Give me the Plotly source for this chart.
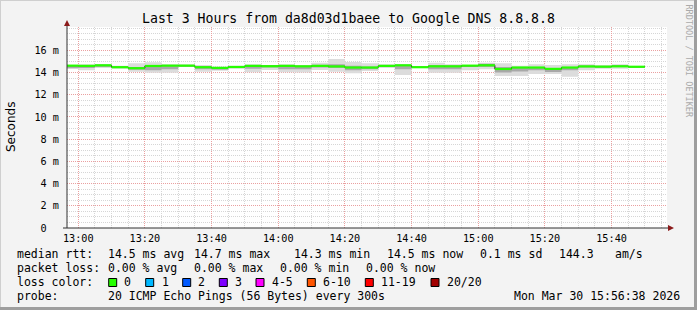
import plotly.graph_objects as go

# ---------------- data ----------------
DAY = "2026-03-30 "
seg_start = ["12:55", "13:00", "13:05", "13:10", "13:15", "13:20", "13:25", "13:30", "13:35",
             "13:40", "13:45", "13:50", "13:55", "14:00", "14:05", "14:10", "14:15", "14:20",
             "14:25", "14:30", "14:35", "14:40", "14:45", "14:50", "14:55", "15:00", "15:05",
             "15:10", "15:15", "15:20", "15:25", "15:30", "15:35", "15:40", "15:45"]
last_end = "15:50"

median_ms = [14.62, 14.60, 14.65, 14.48, 14.39, 14.59, 14.62, 14.62, 14.48,
             14.42, 14.50, 14.60, 14.57, 14.60, 14.56, 14.60, 14.55, 14.45,
             14.45, 14.60, 14.65, 14.48, 14.56, 14.56, 14.62, 14.65, 14.32,
             14.45, 14.45, 14.33, 14.45, 14.55, 14.53, 14.56, 14.52]

smoke_lo = [14.35, 14.20, 14.40, 14.35, 14.08, 13.99, 13.99, 14.53, 14.08,
            14.17, 14.35, 14.02, 14.23, 14.02, 14.00, 14.23, 14.08, 13.93,
            14.14, 14.40, 13.78, 14.40, 13.99, 13.99, 14.20, 14.30, 13.69,
            13.69, 13.87, 13.87, 13.63, 14.20, 14.35, 14.35, 14.45]
smoke_hi = [14.65, 14.75, 14.70, 14.60, 14.84, 14.93, 14.75, 14.75, 14.68,
            14.53, 14.62, 14.75, 14.68, 14.75, 14.62, 14.89, 15.22, 14.95,
            14.84, 14.75, 14.68, 14.55, 14.89, 14.75, 14.68, 14.89, 14.84,
            14.62, 14.75, 14.68, 14.75, 14.75, 14.68, 14.75, 14.58]
core_lo = [14.38, 14.40, 14.50, 14.40, 14.25, 14.20, 14.30, 14.55, 14.30,
           14.25, 14.45, 14.35, 14.45, 14.30, 14.30, 14.45, 14.40, 14.20,
           14.30, 14.50, 14.30, 14.45, 14.30, 14.30, 14.50, 14.50, 14.00,
           14.10, 14.20, 14.05, 14.20, 14.45, 14.45, 14.50, 14.48]
core_hi = [14.60, 14.60, 14.65, 14.50, 14.45, 14.55, 14.55, 14.65, 14.48,
           14.45, 14.55, 14.60, 14.60, 14.55, 14.50, 14.70, 14.75, 14.60,
           14.55, 14.65, 14.60, 14.50, 14.60, 14.55, 14.62, 14.80, 14.50,
           14.40, 14.50, 14.40, 14.45, 14.60, 14.58, 14.60, 14.55]

y_tick_vals = [0, 2, 4, 6, 8, 10, 12, 14, 16]
y_tick_text = ["0\u00a0\u00a0", "2 m", "4 m", "6 m", "8 m", "10 m", "12 m", "14 m", "16 m"]

title_text = "Last 3 Hours from da8d03d1baee to Google DNS 8.8.8.8"
loss_labels = ["0", "1", "2", "3", "4-5", "6-10", "11-19", "20/20"]
loss_colors = ["#26ff00", "#00b8ff", "#0059ff", "#7e00ff", "#ff00ff", "#ff5500", "#ff0000", "#a10000"]

# ---------------- geometry helpers ----------------
L, R, T, B = 67, 667, 27, 228
W, H = R - L, B - T


def px(xp):
    return (xp - L) / W


def py(yp):
    return (B - yp) / H


xs = [DAY + t for t in seg_start] + [DAY + last_end]


def stepped(vals):
    return list(vals) + [vals[-1]]


fig = go.Figure()

# smoke (outer)
fig.add_trace(go.Scatter(x=xs, y=stepped(smoke_lo), mode="lines", line=dict(width=0, shape="hv"),
                         hoverinfo="skip", showlegend=False))
fig.add_trace(go.Scatter(x=xs, y=stepped(smoke_hi), mode="lines", line=dict(width=0, shape="hv"),
                         fill="tonexty", fillcolor="#dcdcdc", hoverinfo="skip", showlegend=False))
# smoke (core)
fig.add_trace(go.Scatter(x=xs, y=stepped(core_lo), mode="lines", line=dict(width=0, shape="hv"),
                         hoverinfo="skip", showlegend=False))
fig.add_trace(go.Scatter(x=xs, y=stepped(core_hi), mode="lines", line=dict(width=0, shape="hv"),
                         fill="tonexty", fillcolor="#a8a8a8", hoverinfo="skip", showlegend=False))
# dark median step line
fig.add_trace(go.Scatter(x=xs, y=stepped(median_ms), mode="lines",
                         line=dict(width=1, shape="hv", color="#202020"),
                         hoverinfo="skip", showlegend=False))
# green median segments
gx, gy = [], []
for i, m in enumerate(median_ms):
    gx += [xs[i], xs[i + 1], None]
    gy += [m, m, None]
fig.add_trace(go.Scatter(x=gx, y=gy, mode="lines", line=dict(width=2.2, color="#26ff00"),
                         hoverinfo="skip", showlegend=False))

MONO = "DejaVu Sans Mono"
annotations = []


def txt(text, xp, yp, size=11.5, anchor="left", color="black", family=MONO, angle=0):
    annotations.append(dict(text=text, x=px(xp), y=py(yp), xref="paper", yref="paper",
                            xanchor=anchor, yanchor="middle", showarrow=False, borderpad=0,
                            textangle=angle,
                            font=dict(family=family, size=size, color=color)))


txt(title_text, 348, 18, size=13.2, anchor="center")
txt("Seconds", 11, 127, size=12, anchor="center", family="DejaVu Sans", angle=-90)
txt("RRDTOOL / TOBI OETIKER", 688.5, 61, size=8.5, anchor="center", color="#aaaaaa", angle=90)

# legend rows
y1, y2, y3, y4 = 254.3, 268.3, 282.3, 296
txt("median rtt:", 16, y1)
txt("14.5 ms avg", 107.3, y1)
txt("14.7 ms max", 193.3, y1)
txt("14.3 ms min", 293.3, y1)
txt("14.5 ms now", 386, y1)
txt("0.1 ms sd", 479.3, y1)
txt("144.3", 558.3, y1)
txt("am/s", 614.3, y1)

txt("packet loss:", 16, y2)
txt("0.00 % avg", 107.3, y2)
txt("0.00 % max", 193.3, y2)
txt("0.00 % min", 279.3, y2)
txt("0.00 % now", 365, y2)

txt("loss color:", 16, y3)
box_x = [108.7, 145.7, 182.7, 219.3, 256.0, 307.3, 365.3, 431.0]
lab_x = [123.3, 160.7, 197.3, 234.0, 271.0, 321.7, 380.0, 445.7]
shapes = []
for bx, lx, lab, col in zip(box_x, lab_x, loss_labels, loss_colors):
    shapes.append(dict(type="rect", xref="paper", yref="paper",
                       x0=px(bx), x1=px(bx + 8), y0=py(286.5), y1=py(278.5),
                       fillcolor=col, line=dict(color="black", width=1), layer="above"))
    txt(lab, lx, y3)

txt("probe:", 16, y4)
txt("20 ICMP Echo Pings (56 Bytes) every 300s", 107.3, y4)
txt("Mon Mar 30 15:56:38 2026", 513.3, y4)

# axes lines and arrows
AX = "#303030"
ARW = "#8b1a1a"
shapes.append(dict(type="line", xref="paper", yref="paper", x0=px(67), x1=px(67), y0=py(228), y1=py(24),
                   line=dict(color=AX, width=1), layer="above"))
shapes.append(dict(type="line", xref="paper", yref="paper", x0=px(63), x1=px(670), y0=py(228), y1=py(228),
                   line=dict(color=AX, width=1), layer="above"))
shapes.append(dict(type="path", xref="paper", yref="paper",
                   path=f"M {px(64)} {py(26)} L {px(70)} {py(26)} L {px(67)} {py(20)} Z",
                   fillcolor=ARW, line=dict(width=0), layer="above"))
shapes.append(dict(type="path", xref="paper", yref="paper",
                   path=f"M {px(668)} {py(225)} L {px(668)} {py(231)} L {px(674)} {py(228)} Z",
                   fillcolor=ARW, line=dict(width=0), layer="above"))
# outer frame (shading)
shapes.append(dict(type="line", xref="paper", yref="paper", x0=px(0), x1=px(697), y0=py(0.5), y1=py(0.5),
                   line=dict(color="#cfcfcf", width=1), layer="above"))
shapes.append(dict(type="line", xref="paper", yref="paper", x0=px(0.5), x1=px(0.5), y0=py(0), y1=py(310),
                   line=dict(color="#cfcfcf", width=1), layer="above"))
shapes.append(dict(type="line", xref="paper", yref="paper", x0=px(0), x1=px(697), y0=py(308.5), y1=py(308.5),
                   line=dict(color="#9e9e9e", width=3), layer="above"))
shapes.append(dict(type="line", xref="paper", yref="paper", x0=px(695.5), x1=px(695.5), y0=py(0), y1=py(310),
                   line=dict(color="#9e9e9e", width=3), layer="above"))

MAJ = "#eaa0a0"
MIN = "#d6d6d6"
DASH = "1px,1px"

fig.update_layout(
    width=697, height=310,
    margin=dict(l=L, r=697 - R, t=T, b=310 - B, pad=0),
    paper_bgcolor="#f3f3f3", plot_bgcolor="white",
    showlegend=False, hovermode=False,
    annotations=annotations, shapes=shapes,
    xaxis=dict(type="date", range=[DAY + "12:56:38", DAY + "15:56:38"],
               tick0=DAY + "13:00", dtick=20 * 60 * 1000, tickformat="%H:%M",
               showgrid=True, gridcolor=MAJ, griddash=DASH, gridwidth=1,
               zeroline=False, showline=False, ticks="", ticklabelstandoff=3,
               tickfont=dict(family=MONO, size=10.2, color="black"),
               minor=dict(dtick=5 * 60 * 1000, tick0=DAY + "13:00", showgrid=True,
                          gridcolor=MIN, griddash=DASH, gridwidth=1),
               fixedrange=True),
    yaxis=dict(range=[0, 18.1], tickmode="array", tickvals=y_tick_vals, ticktext=y_tick_text,
               showgrid=True, gridcolor=MAJ, griddash=DASH, gridwidth=1,
               zeroline=False, showline=False, ticks="", ticklabelstandoff=7,
               tickfont=dict(family=MONO, size=10.2, color="black"),
               minor=dict(dtick=0.5, tick0=0, showgrid=True, gridcolor=MIN, griddash=DASH, gridwidth=1),
               fixedrange=True),
)

fig.write_html("out.html", config={"displayModeBar": False, "staticPlot": True})
